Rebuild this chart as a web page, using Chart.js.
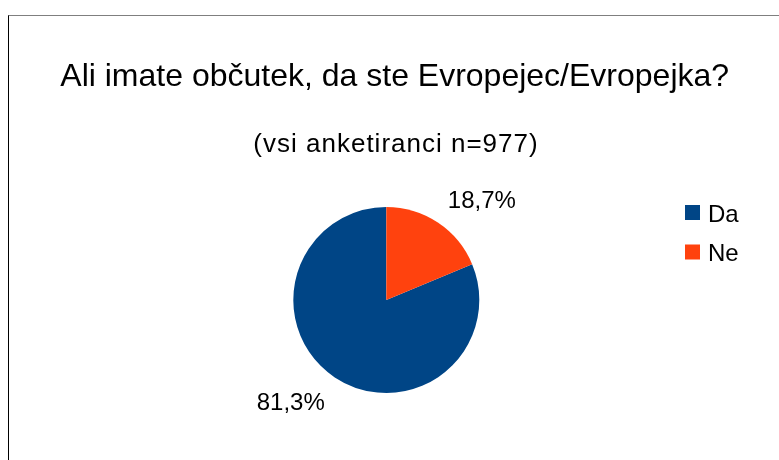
<!DOCTYPE html>
<html>
<head>
<meta charset="utf-8">
<script src="https://cdn.jsdelivr.net/npm/chart.js@4/dist/chart.umd.min.js"></script>
<style>
  html, body { margin: 0; padding: 0; background: #fff; overflow: hidden; }
  #frame {
    position: absolute; left: 8px; top: 15px; width: 800px; height: 500px;
    border-top: 1px solid #7f7f7f; border-left: 1px solid #000;
  }
  #wrap { position: absolute; left: 0; top: 0; width: 779px; height: 460px; }
</style>
</head>
<body>
<div id="frame"></div>
<div id="wrap"><canvas id="chart" width="779" height="460"></canvas></div>
<script>
const titleText = 'Ali imate občutek, da ste Evropejec/Evropejka?';
const subtitleText = '(vsi anketiranci n=977)';
const categories = ['Da', 'Ne'];
const shares = [81.3, 18.7];
const colors = ['#004586', '#ff420e'];

const FONT = '"Liberation Sans", Arial, sans-serif';

// start angle so that "Ne" sits clockwise from 12 o'clock
const rotation = shares[1] / 100 * 360;

const textPlugin = {
  id: 'textPlugin',
  afterDraw(chart) {
    const ctx = chart.ctx;
    ctx.save();
    ctx.fillStyle = '#000';
    ctx.textBaseline = 'alphabetic';

    // title + subtitle
    ctx.textAlign = 'center';
    ctx.font = '32px ' + FONT;
    ctx.fillText(titleText, 394.7, 86);
    ctx.font = '26px ' + FONT;
    ctx.letterSpacing = '1px';
    ctx.fillText(subtitleText, 396, 151.7);
    ctx.letterSpacing = '0px';

    // legend
    const labels = chart.data.labels;
    const bg = chart.data.datasets[0].backgroundColor;
    ctx.textAlign = 'left';
    ctx.font = '24px ' + FONT;
    labels.forEach((lab, i) => {
      const y = 212.5 + i * 39.5;
      ctx.fillStyle = bg[i];
      ctx.fillRect(685, y - 7.5, 15, 15);
      ctx.fillStyle = '#000';
      ctx.fillText(lab, 708, y + 9);
    });

    // percent labels outside the slices
    const meta = chart.getDatasetMeta(0);
    const vals = chart.data.datasets[0].data;
    ctx.font = '24px ' + FONT;
    meta.data.forEach((arc, i) => {
      const p = arc.getProps(['x', 'y', 'startAngle', 'endAngle', 'outerRadius'], true);
      const mid = (p.startAngle + p.endAngle) / 2;
      const cos = Math.cos(mid), sin = Math.sin(mid);
      const txt = vals[i].toFixed(1).replace('.', ',') + '%';
      const w = ctx.measureText(txt).width;
      const capH = 0.716 * 24;
      const R = p.outerRadius + 18;
      const cx = p.x + cos * R + Math.sign(cos) * w / 2;
      const cy = p.y + sin * R + Math.sign(sin) * capH / 2;
      ctx.textAlign = 'center';
      ctx.fillText(txt, cx, cy + capH / 2);
    });
    ctx.restore();
  }
};

new Chart(document.getElementById('chart').getContext('2d'), {
  type: 'pie',
  data: {
    labels: categories,
    datasets: [{
      data: shares,
      backgroundColor: colors,
      borderWidth: 0
    }]
  },
  options: {
    responsive: false,
    animation: false,
    rotation: rotation,
    layout: {
      padding: { left: 293.3, right: 299.7, top: 206.7, bottom: 66.7 }
    },
    plugins: {
      legend: { display: false },
      title: { display: false },
      tooltip: { enabled: false }
    }
  },
  plugins: [textPlugin]
});
</script>
</body>
</html>
